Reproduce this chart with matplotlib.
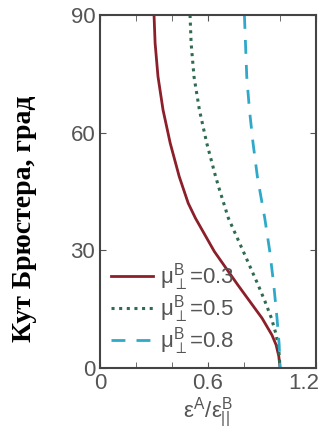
import matplotlib
matplotlib.use('Agg')
import matplotlib.pyplot as plt
from matplotlib.transforms import ScaledTranslation

# кут Брюстера (град) і відповідні значення eps_A / eps_B для кожного mu
angle_03 = [90, 82.8, 74.3, 65.8, 57.3, 48.8, 42, 38.2, 29.7, 21.2, 12.7, 8.4, 5.9, 3, 0]
eps_03 = [0.30, 0.306, 0.322, 0.35, 0.39, 0.44, 0.49, 0.53, 0.635, 0.765, 0.90, 0.955, 0.978, 0.993, 1.0]

angle_05 = [90, 82.8, 74.3, 65.8, 57.3, 48.8, 45.4, 38.2, 29.7, 21.2, 16.9, 12.7, 8.4, 4, 0]
eps_05 = [0.50, 0.506, 0.522, 0.552, 0.593, 0.642, 0.664, 0.713, 0.796, 0.878, 0.917, 0.952, 0.979, 0.994, 1.0]

angle_08 = [90, 74.3, 65.8, 57.3, 48.8, 45.4, 38.2, 29.7, 21.2, 12.7, 6, 0]
eps_08 = [0.802, 0.815, 0.83, 0.85, 0.874, 0.887, 0.915, 0.943, 0.965, 0.983, 0.995, 1.0]

labels = [r'$\mu_{\perp}^{B}$=0.3', r'$\mu_{\perp}^{B}$=0.5', r'$\mu_{\perp}^{B}$=0.8']

plt.rcParams['font.family'] = ['Liberation Sans', 'DejaVu Sans']
plt.rcParams['mathtext.fontset'] = 'custom'
plt.rcParams['mathtext.rm'] = 'Liberation Sans'
plt.rcParams['mathtext.it'] = 'Liberation Sans'

fig = plt.figure(figsize=(3.22, 4.38), dpi=100)
ax = fig.add_axes([0.3106, 0.1598, 0.671, 0.806])

ax.plot(eps_03, angle_03, color='#8b1f2a', lw=2.0, ls='-', label=labels[0])
ax.plot(eps_05, angle_05, color='#2f6b50', lw=2.2, ls=(0, (1, 1.5)), label=labels[1])
ax.plot(eps_08, angle_08, color='#2fa9c9', lw=2.0, ls=(0, (5, 4)), label=labels[2])

ax.set_xlim(0, 1.2)
ax.set_ylim(0, 90)
ax.set_xticks([0, 0.6, 1.2])
ax.set_xticklabels(['0', '0.6', '1.2'])
ax.set_xticks([0.2, 0.4, 0.8, 1.0], minor=True)
ax.set_yticks([0, 30, 60, 90])

ax.tick_params(which='both', direction='in', top=True, right=True,
               labelsize=16, labelcolor='#555555', color='#555555')
ax.tick_params(which='major', length=4)
ax.tick_params(which='minor', length=4)
for s in ax.spines.values():
    s.set_color('#444444')
    s.set_linewidth(1.5)

# зсунути підпис 1.2 ліворуч, як на оригіналі
last = ax.get_xticklabels()[-1]
last.set_transform(last.get_transform() + ScaledTranslation(-12 / 100, 0, fig.dpi_scale_trans))

ax.set_xlabel(r'$\varepsilon^{A}/\varepsilon_{||}^{B}$', fontsize=16, color='#555555', labelpad=1)
ax.set_ylabel('Кут Брюстера, град', fontsize=20, fontweight='bold',
              family='Liberation Serif')
ax.yaxis.set_label_coords(-0.29, 0.422)

leg = ax.legend(loc='lower left', frameon=False, fontsize=16, handlelength=1.9,
                handletextpad=0.3, labelspacing=0.0, borderaxespad=0.1,
                bbox_to_anchor=(0.0, 0.0))
for t in leg.get_texts():
    t.set_color('#555555')

fig.savefig('out.png', dpi=100)
